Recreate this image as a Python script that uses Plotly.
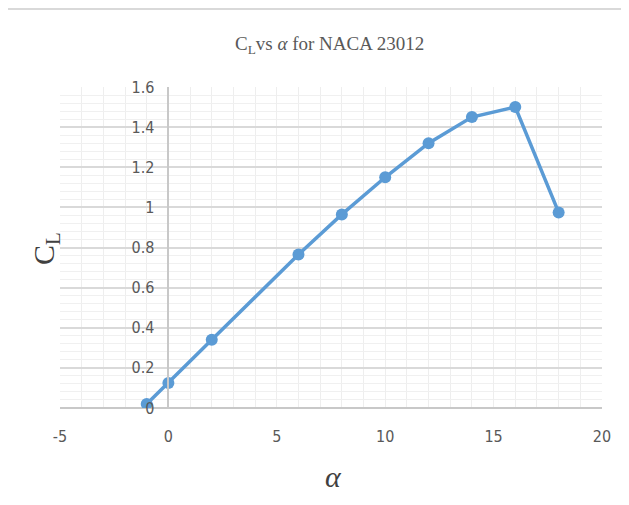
import plotly.graph_objects as go

alpha = [-1, 0, 2, 6, 8, 10, 12, 14, 16, 18]
cl = [0.02, 0.125, 0.34, 0.765, 0.965, 1.15, 1.32, 1.45, 1.50, 0.975]
x_ticks = [-5, 0, 5, 10, 15, 20]
y_ticks = [0, 0.2, 0.4, 0.6, 0.8, 1.0, 1.2, 1.4, 1.6]
y_tick_text = ["0", "0.2", "0.4", "0.6", "0.8", "1", "1.2", "1.4", "1.6"]

OFF = 8  # page body margin
W, H = 629 - OFF, 505 - OFF
L, T = 60 - OFF, 87 - OFF
pw, ph = 542, 321
R, B = W - L - pw, H - T - ph

def px(x):
    return (x - 60) / pw

def py(y):
    return (408 - y) / ph

tick_font = dict(family="DejaVu Sans Condensed, Liberation Sans Narrow, Arial Narrow, Roboto, sans-serif",
                 size=16, color="#595959")
blue = "#5b9bd5"

fig = go.Figure()
fig.add_trace(go.Scatter(
    x=alpha, y=cl, mode="lines+markers",
    line=dict(color=blue, width=3.5),
    marker=dict(color=blue, size=12),
    showlegend=False,
))

fig.update_layout(
    width=W, height=H,
    margin=dict(l=L, r=R, t=T, b=B),
    paper_bgcolor="white", plot_bgcolor="white",
    xaxis=dict(
        range=[-5, 20], tickvals=x_ticks, ticktext=[str(v) for v in x_ticks],
        showgrid=True, gridcolor="#eeeeee", gridwidth=1,
        minor=dict(dtick=1, showgrid=True, gridcolor="#eeeeee", gridwidth=1),
        zeroline=False, showline=False, ticks="",
        tickfont=tick_font, ticklabelstandoff=17,
    ),
    yaxis=dict(
        range=[0, 1.6], tickvals=y_ticks, ticktext=y_tick_text,
        showgrid=True, gridcolor="#d9d9d9", gridwidth=1.5,
        minor=dict(dtick=0.04, showgrid=True, gridcolor="#f0f0f0", gridwidth=1),
        zeroline=True, zerolinecolor="#c8c8c8", zerolinewidth=2,
        showline=True, linecolor="#c8c8c8", linewidth=1.5,
        anchor="free", position=0.2, ticks="",
        tickfont=tick_font, ticklabelstandoff=10,
    ),
    shapes=[dict(type="rect", xref="paper", yref="paper",
                 x0=px(6), x1=px(700), y0=py(600), y1=py(9),
                 line=dict(color="#d9d9d9", width=2), layer="below")],
    annotations=[
        dict(text="C<sub>L</sub>vs <i>α</i> for NACA 23012", xref="paper", yref="paper",
             x=px(329), y=py(45), showarrow=False, xanchor="center", yanchor="middle",
             font=dict(family="Liberation Serif, Times New Roman, serif", size=19, color="#595959")),
        dict(text="C<sub>L</sub>", xref="paper", yref="paper",
             x=px(46), y=py(249), showarrow=False, xanchor="center", yanchor="middle",
             textangle=-90,
             font=dict(family="Liberation Serif, Times New Roman, serif", size=30, color="#404040")),
        dict(text="<i>α</i>", xref="paper", yref="paper",
             x=px(333), y=py(476), showarrow=False, xanchor="center", yanchor="middle",
             font=dict(family="Liberation Serif, Times New Roman, serif", size=30, color="#404040")),
    ],
)

fig.write_html("out.html")
